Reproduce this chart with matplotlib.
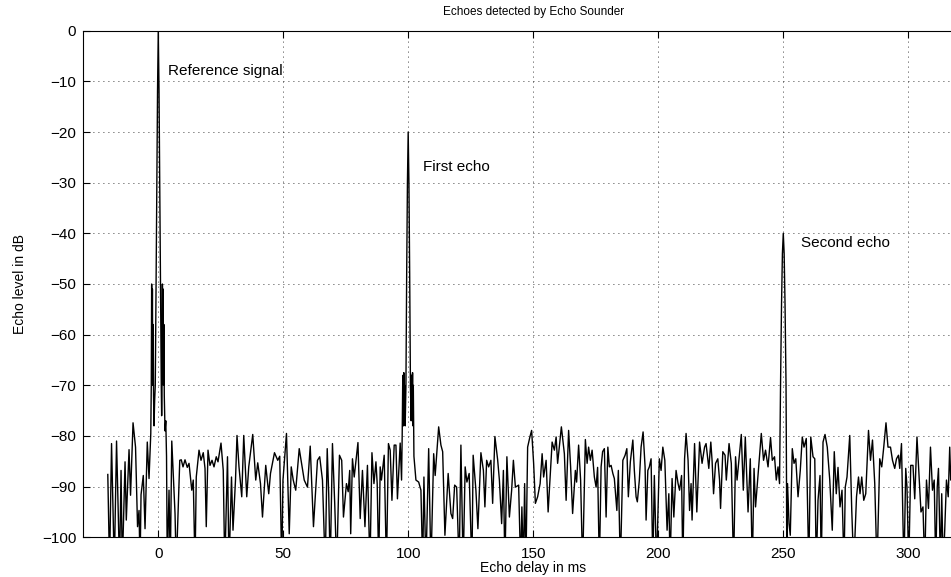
import matplotlib
matplotlib.use("Agg")
import matplotlib.pyplot as plt
import numpy as np

plt.rcParams['font.family'] = ['Liberation Sans', 'DejaVu Sans']

# ---- data: (delay in ms, echo level in dB) ----
# values below -100 dB are clipped by the axes
noise_before_ref = [
    (-20.2, -87.6), (-19.5, -106), (-18.7, -81.5), (-17.6, -106), (-16.7, -81.0),
    (-15.5, -106), (-14.9, -86.8), (-14.4, -106), (-13.3, -85.1), (-12.8, -96.6),
    (-11.7, -82.7), (-11.1, -91.7), (-10.1, -77.4), (-9.1, -82.2), (-8.3, -97.9),
    (-7.7, -94.7), (-7.3, -106), (-6.9, -91.6), (-6.0, -87.8), (-5.3, -98.3),
    (-4.4, -81.2), (-3.7, -88.4),
]
reference_pulse = [
    (-3.0, -79.5), (-2.8, -70), (-2.65, -50), (-2.5, -66), (-2.35, -51), (-2.2, -70),
    (-2.05, -58), (-1.9, -72), (-1.7, -78), (-1.45, -73), (-1.2, -70), (-0.9, -52),
    (-0.6, -32), (-0.3, -12), (0.0, 0.0), (0.3, -12), (0.6, -32), (0.9, -52),
    (1.2, -70), (1.35, -76), (1.5, -70), (1.65, -50), (1.8, -66), (1.95, -51),
    (2.1, -70), (2.25, -58), (2.4, -72), (2.7, -79), (3.0, -77), (3.3, -84), (3.6, -106),
]
noise_ref_to_first = [
    (4.3, -90.7), (4.8, -106), (5.4, -81.0), (6.7, -95.3), (7.2, -106), (8.6, -84.8),
    (9.2, -84.7), (9.9, -86.1), (10.7, -84.7), (11.6, -86.2), (12.3, -85.4), (13.4, -90.7),
    (14.0, -88.7), (14.7, -106), (15.2, -88.1), (16.3, -82.8), (17.1, -84.8), (18.0, -83.3),
    (18.7, -86.4), (19.2, -97.9), (19.9, -82.8), (20.7, -85.8), (21.5, -84.8), (22.3, -86.1),
    (23.2, -84.1), (23.9, -85.1), (25.1, -81.4), (26.0, -86.8), (26.6, -106), (27.7, -84.1),
    (28.3, -106), (29.3, -88.1), (29.9, -98.6), (30.9, -88.7), (31.5, -79.9), (32.3, -86.1),
    (33.4, -92.0), (34.2, -79.9), (35.4, -92.0), (36.2, -86.1), (37.8, -79.7), (39.0, -88.7),
    (39.8, -85.3), (40.9, -89.4), (41.7, -96.0), (43.0, -85.8), (44.2, -91.4), (44.9, -87.4),
    (46.5, -83.3), (47.8, -84.8), (48.6, -84.0), (49.4, -106), (49.9, -88.7), (51.3, -79.5),
    (52.4, -99.3), (53.2, -86.1), (54.0, -88.7), (55.0, -90.7), (56.4, -82.5), (58.4, -88.7),
    (59.7, -90.1), (60.8, -82.0), (62.1, -97.9), (63.7, -84.8), (64.6, -84.1), (65.7, -88.7),
    (66.8, -106), (67.6, -82.5), (68.2, -91.4), (68.8, -106), (69.7, -81.5), (70.6, -93.3),
    (71.4, -106), (72.5, -83.8), (73.4, -84.8), (74.1, -96.0), (75.3, -89.4), (76.0, -91.0),
    (76.6, -86.8), (77.0, -99.3), (77.7, -84.5), (78.4, -88.1), (79.9, -81.3), (80.8, -96.3),
    (81.7, -86.8), (82.7, -97.9), (83.7, -85.8), (84.7, -106), (85.5, -83.3), (86.3, -89.4),
    (87.1, -85.1), (87.6, -89.4), (88.2, -106), (88.8, -86.1), (89.3, -88.7), (90.4, -83.8),
    (91.3, -106), (92.1, -81.5), (92.8, -82.8), (93.5, -92.7), (94.4, -81.8), (95.1, -81.8),
    (95.7, -92.4), (96.8, -81.4), (97.35, -88.7),
]
first_echo = [
    (97.6, -80), (97.8, -70), (97.95, -68), (98.1, -78), (98.25, -67.5), (98.4, -76),
    (98.6, -70), (98.8, -78), (99.1, -70), (99.4, -48), (99.7, -30),
    (100.0, -20), (100.3, -30), (100.6, -48), (100.9, -70), (101.2, -77),
    (101.4, -68), (101.6, -76), (101.75, -67.5), (101.9, -78), (102.05, -70), (102.3, -84),
]
noise_first_to_second = [
    (103.1, -88.7), (104.2, -89.1), (105.1, -90.7), (105.8, -106), (106.3, -88.1),
    (107.1, -106), (108.2, -82.5), (109.1, -106), (110.2, -83.5), (110.8, -87.8),
    (112.2, -78.2), (113.1, -81.8), (113.8, -83.1), (114.7, -99.6), (116.0, -87.4),
    (117.1, -95.3), (117.8, -96.3), (118.6, -89.7), (119.4, -90.1), (120.4, -106),
    (121.1, -81.8), (122.0, -106), (122.8, -86.1), (123.5, -89.1), (124.4, -87.4),
    (125.5, -106), (126.0, -83.8), (127.1, -90.7), (127.9, -98.3), (129.1, -83.3),
    (130.1, -86.8), (130.7, -94.0), (131.4, -84.8), (132.2, -86.1), (133.1, -84.8),
    (133.8, -93.3), (134.7, -80.1), (135.8, -84.7), (136.5, -88.7), (137.4, -97.3),
    (138.1, -86.8), (138.7, -106), (139.5, -84.1), (140.5, -96.0), (141.4, -90.7),
    (142.1, -84.8), (142.9, -90.1), (144.2, -89.7), (145.0, -106), (145.5, -94.0),
    (146.1, -106), (146.6, -89.4), (147.1, -106), (147.8, -82.2), (148.7, -80.2),
    (149.4, -78.9), (150.2, -85.4), (150.9, -93.3), (151.8, -92.0), (152.8, -89.4),
    (153.6, -83.5), (154.2, -88.1), (155.2, -84.8), (156.0, -95.0), (156.8, -88.1),
    (157.6, -81.2), (158.5, -82.8), (159.2, -80.2), (159.8, -85.4), (161.3, -78.2),
    (162.5, -83.5), (163.2, -92.7), (164.2, -78.9), (165.0, -86.1), (165.8, -95.3),
    (166.9, -86.8), (167.4, -89.1), (168.2, -81.8), (169.0, -88.7), (169.8, -106),
    (170.9, -80.7), (171.6, -85.4), (172.2, -82.2), (172.9, -84.8), (173.6, -82.8),
    (174.5, -88.1), (175.2, -90.1), (175.8, -86.2), (176.5, -106), (177.2, -86.1),
    (177.8, -83.1), (178.5, -82.5), (179.2, -96.0), (179.9, -82.2), (180.5, -86.1),
    (181.2, -85.8), (181.9, -87.4), (182.5, -88.4), (183.5, -94.7), (184.1, -86.8),
    (184.9, -106), (185.9, -84.8), (186.8, -83.8), (187.5, -82.5), (188.1, -92.0),
    (188.9, -85.1), (189.9, -80.8), (190.5, -86.8), (191.2, -92.0), (191.7, -93.0),
    (192.5, -88.7), (193.2, -82.2), (194.0, -79.2), (194.8, -86.1), (195.2, -96.6),
    (195.9, -86.8), (196.5, -86.1), (197.2, -84.5), (197.9, -106), (198.5, -87.8),
    (199.4, -106), (200.5, -84.5), (201.2, -86.8), (201.9, -82.2), (202.7, -84.8),
    (203.6, -98.6), (204.3, -91.4), (204.8, -106), (205.6, -88.4), (206.3, -96.0),
    (207.2, -86.8), (208.0, -89.4), (208.6, -90.7), (209.4, -87.8), (209.9, -106),
    (210.6, -84.5), (211.2, -79.5), (212.0, -84.8), (212.6, -94.7), (213.2, -89.4),
    (213.6, -96.6), (214.6, -81.5), (215.5, -95.0), (216.6, -81.2), (217.6, -85.4),
    (218.6, -82.2), (219.2, -81.5), (220.3, -86.4), (221.1, -81.2), (221.6, -84.8),
    (222.2, -91.4), (223.0, -85.4), (223.9, -84.5), (224.6, -88.7), (225.0, -94.3),
    (225.9, -83.1), (226.8, -83.8), (227.3, -88.7), (228.4, -81.5), (229.3, -85.4),
    (230.2, -106), (231.0, -84.1), (231.6, -88.7), (232.4, -84.5), (233.3, -79.7),
    (234.1, -90.7), (234.9, -80.2), (236.0, -95.0), (236.9, -84.5), (237.7, -106),
    (238.4, -86.4), (239.0, -94.0), (240.4, -85.1), (241.3, -79.5), (242.2, -84.8),
    (243.0, -82.8), (244.0, -86.1), (245.0, -80.3), (245.7, -84.8), (246.6, -84.1),
    (247.3, -88.7), (248.0, -86.1), (248.6, -89.4),
]
second_echo = [
    (249.0, -70), (249.4, -54), (249.75, -44), (250.1, -40), (250.45, -44),
    (250.8, -54), (251.2, -70), (251.4, -90), (251.5, -106),
]
noise_after_second = [
    (251.8, -89.4), (252.4, -97.3), (252.9, -99.6), (253.7, -82.5), (254.4, -85.4),
    (255.1, -84.5), (256.0, -92.0), (256.9, -86.8), (257.7, -80.2), (258.4, -82.2),
    (259.3, -80.5), (260.3, -106), (261.1, -80.2), (262.0, -84.1), (262.7, -84.5),
    (263.3, -106), (264.0, -92.7), (264.8, -87.8), (265.3, -106), (266.0, -81.2),
    (266.8, -79.7), (267.7, -82.2), (268.7, -88.7), (269.7, -98.6), (270.5, -83.1),
    (271.3, -91.4), (272.0, -86.2), (272.8, -94.0), (273.6, -90.7), (274.4, -106),
    (274.9, -90.1), (275.6, -88.1), (276.7, -79.9), (277.5, -94.7), (278.3, -106),
    (279.4, -92.0), (280.2, -88.1), (280.8, -91.4), (281.5, -88.1), (282.3, -92.7),
    (283.1, -91.4), (284.2, -78.9), (285.0, -84.8), (285.8, -80.8), (286.7, -89.4),
    (287.6, -106), (288.7, -84.5), (289.5, -86.1), (290.3, -82.2), (291.2, -77.4),
    (292.0, -82.2), (293.0, -82.2), (293.8, -84.8), (294.7, -86.4), (295.4, -84.5),
    (296.2, -83.8), (296.7, -86.4), (297.4, -81.5), (298.0, -97.3), (298.4, -106),
    (299.1, -86.4), (299.6, -90.1), (300.3, -106), (301.1, -85.8), (302.0, -85.8),
    (302.7, -92.4), (303.6, -80.2), (304.4, -87.4), (305.2, -95.0), (306.0, -94.0),
    (306.7, -106), (307.4, -88.7), (308.2, -94.3), (309.0, -82.2), (309.8, -90.7),
    (310.5, -88.7), (311.1, -106), (311.7, -90.1), (312.2, -86.4), (313.0, -106),
    (313.5, -91.4), (314.1, -106), (314.7, -98.6), (315.4, -88.7), (316.1, -92.0),
    (316.7, -82.2), (317.1, -88.7), (318.0, -85.0),
]

annotations = [("Reference signal", 4, -8), ("First echo", 106, -27), ("Second echo", 257, -42)]
x_ticks = [0, 50, 100, 150, 200, 250, 300]
y_ticks = [0, -10, -20, -30, -40, -50, -60, -70, -80, -90, -100]

segments = [noise_before_ref, reference_pulse, noise_ref_to_first, first_echo,
            noise_first_to_second, second_echo, noise_after_second]
trace = np.array([p for seg in segments for p in seg])
delay_ms = trace[:, 0]
level_db = trace[:, 1]

fig = plt.figure(figsize=(9.51, 5.77), dpi=100)
ax = fig.add_axes([0.0876, 0.0688, 0.946, 0.878])
ax.plot(delay_ms, level_db, color='black', linewidth=1.0, zorder=3)

ax.set_xlim(-30, 330)
ax.set_ylim(-100, 0)
ax.set_xticks(x_ticks)
ax.set_yticks(y_ticks)
ax.grid(True, color='black', linestyle=(0, (1, 5)), linewidth=0.6)
ax.set_axisbelow(True)
ax.tick_params(direction='in', length=5, width=0.8, top=True, right=True,
               labelsize=11, pad=5)
ax.tick_params(axis='x', pad=7)
for s in ax.spines.values():
    s.set_linewidth(0.8)
    s.set_color('black')

for label, x, y in annotations:
    ax.text(x, y, label, ha='left', va='center', fontsize=11)

ax.set_title("Echoes detected by Echo Sounder", fontsize=8.5, pad=11)
ax.set_xlabel("Echo delay in ms", fontsize=10, labelpad=0)
ax.set_ylabel("Echo level in dB", fontsize=10, labelpad=11)

fig.savefig("out.png", dpi=100)
